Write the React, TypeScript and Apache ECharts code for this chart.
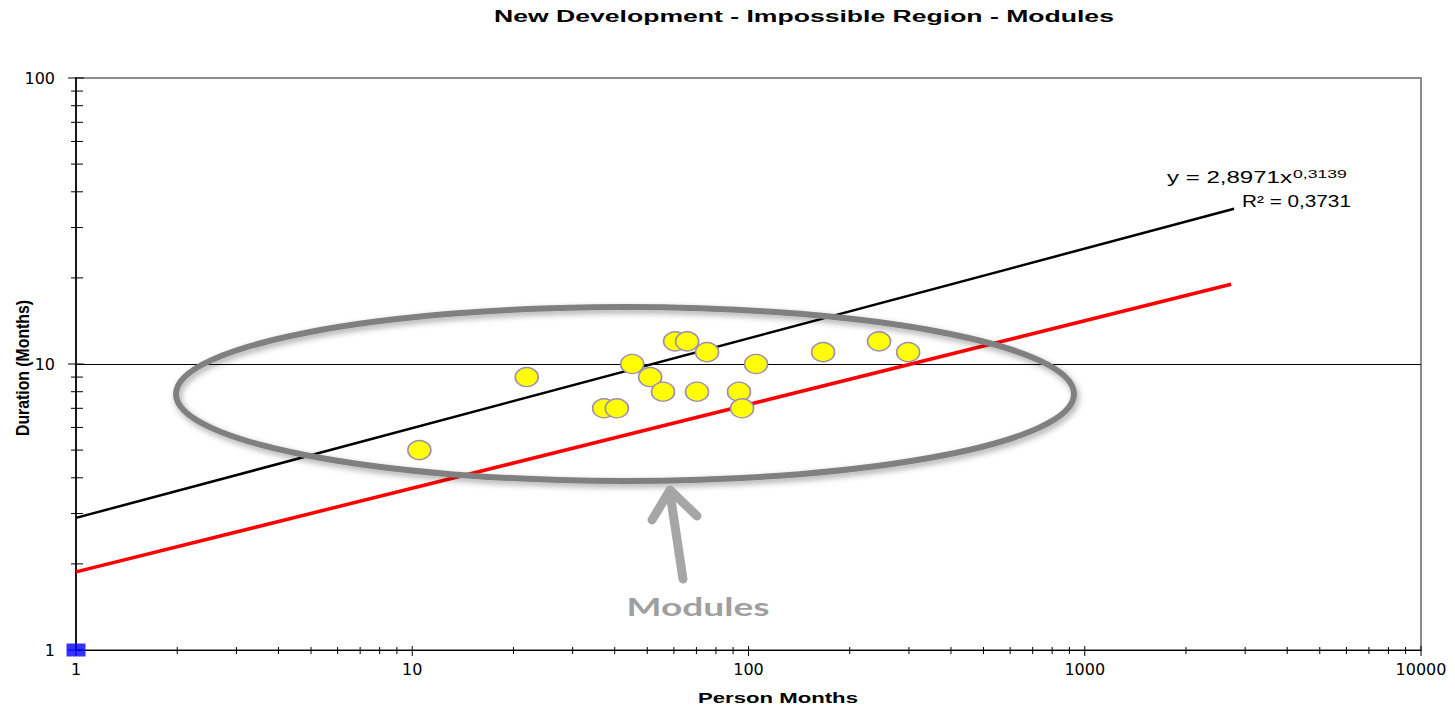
import React, { useEffect, useRef } from 'react';
import * as echarts from 'echarts';

// ---- texts ----
const TITLE = 'New Development - Impossible Region - Modules';
const X_NAME = 'Person Months';
const Y_NAME = 'Duration (Months)';
const EQUATION = 'y = 2,8971x';
const EQUATION_EXP = '0,3139';
const R2_TEXT = 'R² = 0,3731';
const NOTE = 'Modules';

// ---- data ----
const PERSON_MONTHS = [10.5, 21.9, 37.2, 40.6, 45.1, 51, 55.7, 60.5, 65.7, 75.3, 70.3, 93.7, 95.7, 105.3, 166.7, 244.5, 298.4];
const DURATION = [5, 9, 7, 7, 10, 9, 8, 12, 12, 11, 8, 8, 7, 10, 11, 12, 11];

const TREND_X = [1, 2780];
const TREND_Y = [2.897, 34.9];
const LIMIT_X = [1, 2725];
const LIMIT_Y = [1.875, 19.0];
const ORIGIN_X = [1];
const ORIGIN_Y = [1];

const X_MAJOR_TICKS = [1, 10, 100, 1000, 10000];
const X_MINOR_TICKS = [2, 3, 4, 5, 6, 7, 8, 9, 20, 30, 40, 50, 60, 70, 80, 90, 200, 300, 400, 500, 600, 700, 800, 900, 2000, 3000, 4000, 5000, 6000, 7000, 8000, 9000];
const Y_MAJOR_TICKS = [1, 10, 100];
const Y_MINOR_TICKS = [2, 3, 4, 5, 6, 7, 8, 9, 20, 30, 40, 50, 60, 70, 80, 90];

function makeMeasure() {
  const c = document.createElement('canvas').getContext('2d');
  return (text: string, font: string) => {
    if (!c) return 0;
    c.font = font;
    return c.measureText(text).width;
  };
}

export default function App() {
  const ref = useRef<HTMLDivElement>(null);

  useEffect(() => {
    if (!ref.current) return;
    const chart = echarts.init(ref.current, undefined, { renderer: 'svg' });
    const measure = makeMeasure();

    const stretched = (
      text: string, x: number, y: number, size: number, weight: string, family: string,
      color: string, targetWidth: number, align: string = 'center', extra: any = {}
    ) => {
      const font = `${weight} ${size}px ${family}`;
      const w = measure(text, font);
      const s = w > 0 ? targetWidth / w : 1;
      return {
        type: 'text', x, y, scaleX: s, z: 100, silent: true,
        ...extra,
        style: {
          text, font, fill: color,
          textAlign: align, textVerticalAlign: 'middle',
          align, verticalAlign: 'middle',
        },
      };
    };

    const xTickSeries = (values: number[], up: number, down: number) => ({
      type: 'custom',
      coordinateSystem: 'cartesian2d',
      silent: true,
      clip: false,
      z: 6,
      data: values.map((v) => [v, 1]),
      renderItem: (_p: any, api: any) => {
        const p = api.coord([api.value(0), 1]);
        return {
          type: 'line',
          shape: { x1: p[0], y1: p[1] - up, x2: p[0], y2: p[1] + down },
          style: { stroke: '#000', lineWidth: 1 },
        };
      },
    });

    const yTickSeries = (values: number[], left: number, right: number) => ({
      type: 'custom',
      coordinateSystem: 'cartesian2d',
      silent: true,
      clip: false,
      z: 6,
      data: values.map((v) => [1, v]),
      renderItem: (_p: any, api: any) => {
        const p = api.coord([1, api.value(1)]);
        return {
          type: 'line',
          shape: { x1: p[0] - left, y1: p[1], x2: p[0] + right, y2: p[1] },
          style: { stroke: '#000', lineWidth: 1 },
        };
      },
    });

    const option: any = {
      animation: false,
      backgroundColor: '#ffffff',
      grid: {
        left: 76, right: 34, top: 78, bottom: 57,
        show: true, borderColor: '#8c8c8c', borderWidth: 2, backgroundColor: 'transparent',
      },
      xAxis: {
        type: 'log', logBase: 10, min: 1, max: 10000,
        axisLine: { show: true, lineStyle: { color: '#000', width: 1 } },
        axisTick: { show: false },
        minorTick: { show: false },
        splitLine: { show: false },
        axisLabel: {
          fontFamily: 'DejaVu Sans', fontSize: 16, color: '#000', margin: 11,
          formatter: (v: number) => String(Math.round(v)),
        },
      },
      yAxis: {
        type: 'log', logBase: 10, min: 1, max: 100,
        axisLine: { show: true, lineStyle: { color: '#1a1a1a', width: 2 } },
        axisTick: { show: false },
        minorTick: { show: false },
        splitLine: { show: true, showMinLine: false, showMaxLine: false, lineStyle: { color: '#000', width: 1 } },
        axisLabel: {
          fontFamily: 'DejaVu Sans', fontSize: 16, color: '#000', margin: 21,
          formatter: (v: number) => String(Math.round(v)),
        },
      },
      series: [
        {
          type: 'line', name: 'limit', silent: true, symbol: 'none', z: 3,
          data: LIMIT_X.map((x, i) => [x, LIMIT_Y[i]]),
          lineStyle: { color: '#ff0000', width: 3.5 },
        },
        {
          type: 'line', name: 'trend', silent: true, symbol: 'none', z: 3,
          data: TREND_X.map((x, i) => [x, TREND_Y[i]]),
          lineStyle: { color: '#000000', width: 2.5 },
        },
        {
          type: 'scatter', name: 'Modules', z: 5,
          data: PERSON_MONTHS.map((x, i) => [x, DURATION[i]]),
          symbol: 'circle', symbolSize: [23, 19],
          itemStyle: { color: '#ffff00', borderColor: '#9a8cb4', borderWidth: 1.5, opacity: 1 },
        },
        {
          type: 'scatter', name: 'origin', z: 7, clip: false,
          data: ORIGIN_X.map((x, i) => [x, ORIGIN_Y[i]]),
          symbol: 'rect', symbolSize: [19, 13],
          itemStyle: { color: '#0000ff' },
        },
        xTickSeries(X_MAJOR_TICKS, 4, 6),
        xTickSeries(X_MINOR_TICKS, 3, 4),
        yTickSeries(Y_MAJOR_TICKS, 8, 8),
        yTickSeries(Y_MINOR_TICKS, 5, 7),
      ],
      graphic: [
        {
          type: 'ellipse', z: 50, silent: true,
          shape: { cx: 625, cy: 394, rx: 449, ry: 87 },
          style: {
            fill: 'none', stroke: '#808080', lineWidth: 6,
            shadowBlur: 6, shadowColor: 'rgba(0,0,0,0.35)', shadowOffsetX: 2, shadowOffsetY: 3,
          },
        },
        {
          type: 'line', z: 50, silent: true,
          shape: { x1: 683, y1: 579, x2: 670, y2: 493 },
          style: { stroke: '#a6a6a6', lineWidth: 9, lineCap: 'round' },
        },
        {
          type: 'polyline', z: 50, silent: true,
          shape: { points: [[652, 520], [670, 490], [697, 516]] },
          style: { stroke: '#a6a6a6', lineWidth: 9, lineCap: 'round', lineJoin: 'round', fill: 'none' },
        },
        stretched(TITLE, 804, 16, 17, 'bold', "'Liberation Sans'", '#000', 620),
        stretched(X_NAME, 778, 698, 15, 'bold', "'Liberation Sans'", '#000', 160),
        stretched(Y_NAME, 22, 368, 14, 'bold', "'Liberation Sans'", '#000', 136, 'center', { rotation: Math.PI / 2, scaleY: 1.35 }),
        stretched(NOTE, 698, 607, 25, 'bold', 'Lato', '#9f9f9f', 143),
        stretched(EQUATION, 1167, 178, 16, 'normal', "'Liberation Sans'", '#000', 125, 'left'),
        stretched(EQUATION_EXP, 1293, 174, 11, 'normal', "'Liberation Sans'", '#000', 54, 'left'),
        stretched(R2_TEXT, 1242, 201, 16, 'normal', "'Liberation Sans'", '#000', 109, 'left'),
      ],
    };

    chart.setOption(option);
    return () => chart.dispose();
  }, []);

  return (
    <div
      ref={ref}
      style={{ position: 'fixed', left: 0, top: 0, width: '1455px', height: '707px', background: '#fff' }}
    />
  );
}
